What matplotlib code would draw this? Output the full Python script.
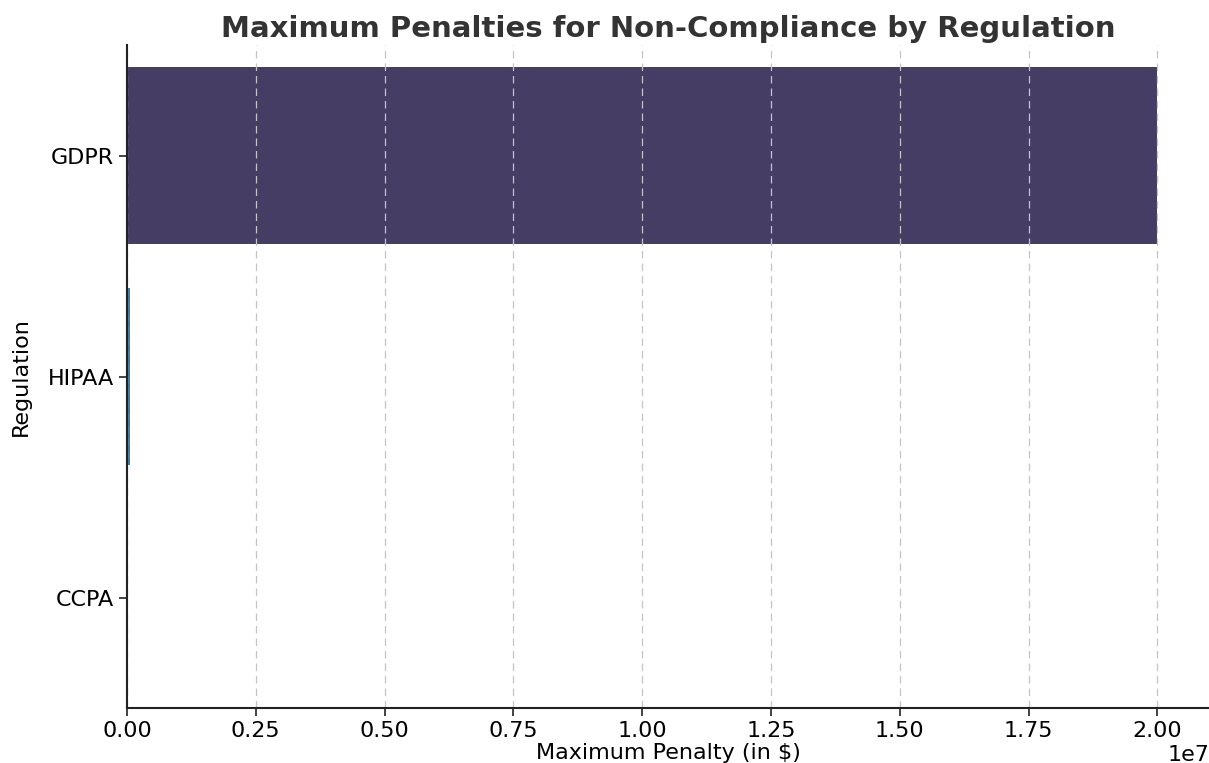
import matplotlib

matplotlib.use("Agg")
import matplotlib.pyplot as plt

regulations = ["GDPR", "HIPAA", "CCPA"]
max_penalties = [20000000, 50000, 7500]

# colours (seaborn "mako"-like)
bar_colors = ["#453d63", "#3b7ea0", "#5fbfa8"]

fig = plt.figure(figsize=(12.09, 7.63), dpi=100)
ax = fig.add_axes([0.105, 0.072, 0.895, 0.869])

ax.barh(regulations, max_penalties, height=0.8, color=bar_colors)
ax.set_ylim(2.5, -0.5)
ax.set_xlim(0, 2.1e7)

ax.set_title("Maximum Penalties for Non-Compliance by Regulation",
             fontsize=21, fontweight="bold", color="#333333", pad=6)
ax.set_xlabel("Maximum Penalty (in $)", fontsize=16, labelpad=1)
ax.set_ylabel("Regulation", fontsize=16, labelpad=12)

ax.tick_params(axis="both", labelsize=16, length=6, width=1.2, color="#222222")
ax.xaxis.get_offset_text().set_fontsize(16)

ax.set_axisbelow(False)
ax.grid(axis="x", linestyle=(0, (6, 4)), color="#c4c4c4", linewidth=0.9)
ax.grid(axis="y", visible=False)

for side in ("top", "right"):
    ax.spines[side].set_visible(False)
for side in ("left", "bottom"):
    ax.spines[side].set_linewidth(1.5)
    ax.spines[side].set_color("#222222")
    ax.spines[side].set_zorder(5)

fig.savefig("out.png", dpi=100)
plt.close(fig)
